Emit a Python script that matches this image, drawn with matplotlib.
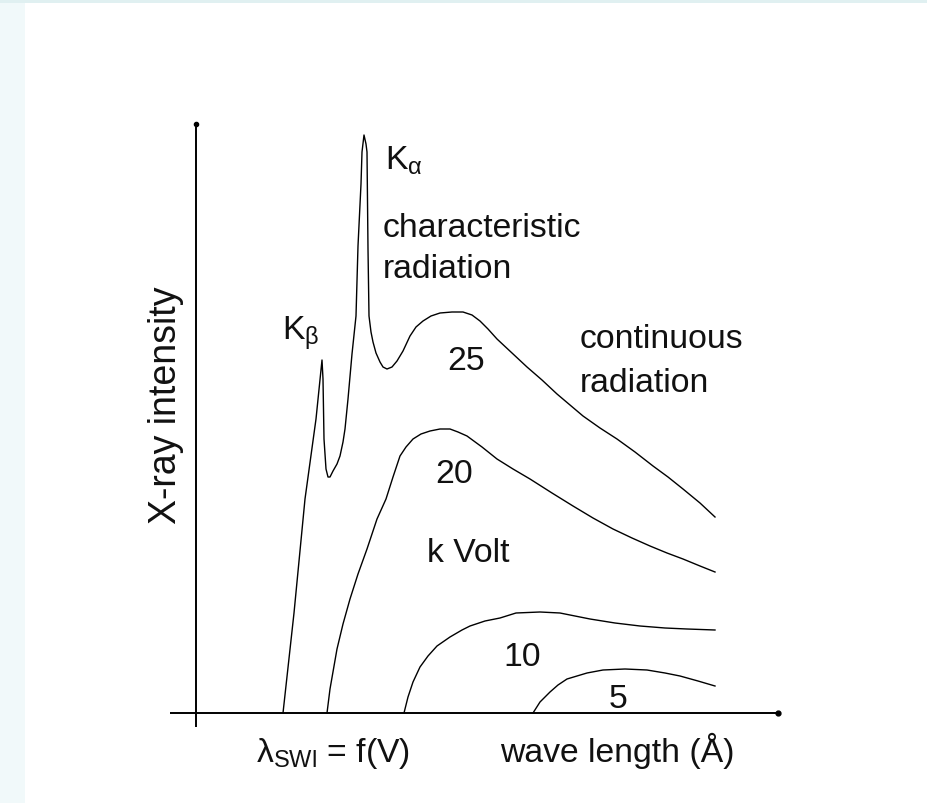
import numpy as np
import matplotlib
matplotlib.use("Agg")
import matplotlib.pyplot as plt
from matplotlib.patches import Rectangle

# ---------------------- SETTINGS ----------------------
plt.rcParams['font.family'] = ['Liberation Sans', 'DejaVu Sans']
plt.rcParams['mathtext.fontset'] = 'custom'
plt.rcParams['mathtext.rm'] = 'Liberation Sans'
plt.rcParams['mathtext.it'] = 'Liberation Sans:italic'
plt.rcParams['mathtext.bf'] = 'Liberation Sans:bold'

FS = 24.3
W, H, DPI = 927, 804, 100

# ---------------------- DATA ----------------------
# wavelength (arb. units) / intensity (arb. units)
wl_25kv = [0.86, 0.97, 1.08, 1.19, 1.25, 1.26, 1.27, 1.29, 1.31, 1.33, 1.36,
           1.40, 1.43, 1.46, 1.48, 1.51, 1.55, 1.59, 1.61, 1.64, 1.65, 1.67,
           1.69, 1.70, 1.71, 1.72, 1.74, 1.76, 1.79, 1.83, 1.86, 1.90, 1.95,
           2.00, 2.06, 2.13, 2.19, 2.26, 2.34, 2.43, 2.55, 2.66, 2.75, 2.83,
           2.91, 3.00, 3.15, 3.30, 3.45, 3.60, 3.73, 3.86, 4.03, 4.20, 4.38,
           4.56, 4.71, 4.86, 5.03, 5.18]
int_25kv = [0.00, 1.00, 2.14, 2.94, 3.53, 3.34, 2.74, 2.44, 2.36, 2.36, 2.42,
            2.49, 2.57, 2.71, 2.84, 3.14, 3.59, 3.97, 4.67, 5.29, 5.61, 5.78,
            5.69, 5.61, 4.64, 3.97, 3.81, 3.71, 3.60, 3.51, 3.46, 3.44, 3.46,
            3.52, 3.62, 3.77, 3.86, 3.92, 3.97, 4.00, 4.01, 4.01, 3.98, 3.92,
            3.84, 3.74, 3.60, 3.46, 3.33, 3.19, 3.08, 2.97, 2.85, 2.74, 2.61,
            2.47, 2.36, 2.24, 2.10, 1.96]

wl_20kv = [1.30, 1.33, 1.40, 1.46, 1.53, 1.61, 1.70, 1.80, 1.89, 1.96, 2.03,
           2.09, 2.16, 2.24, 2.33, 2.43, 2.53, 2.61, 2.70, 2.85, 3.00, 3.16,
           3.33, 3.55, 3.76, 3.96, 4.16, 4.35, 4.53, 4.70, 4.86, 5.03, 5.18]
int_20kv = [0.00, 0.24, 0.64, 0.89, 1.14, 1.39, 1.64, 1.94, 2.14, 2.36, 2.57,
            2.66, 2.74, 2.79, 2.82, 2.84, 2.84, 2.81, 2.77, 2.66, 2.54, 2.44,
            2.34, 2.20, 2.07, 1.95, 1.84, 1.75, 1.67, 1.60, 1.54, 1.47, 1.41]

wl_10kv = [2.07, 2.11, 2.16, 2.23, 2.31, 2.40, 2.53, 2.65, 2.73, 2.88, 3.03,
           3.19, 3.43, 3.63, 3.78, 3.93, 4.18, 4.43, 4.68, 4.90, 5.18]
int_10kv = [0.00, 0.16, 0.31, 0.46, 0.57, 0.67, 0.76, 0.83, 0.87, 0.92, 0.95,
            1.00, 1.01, 1.00, 0.97, 0.94, 0.90, 0.87, 0.85, 0.84, 0.83]

wl_5kv = [3.36, 3.43, 3.53, 3.61, 3.70, 3.80, 3.90, 4.06, 4.28, 4.50, 4.68,
          4.83, 5.01, 5.18]
int_5kv = [0.00, 0.11, 0.21, 0.28, 0.34, 0.37, 0.40, 0.43, 0.44, 0.43, 0.40,
           0.37, 0.32, 0.27]

curves = [(wl_25kv, int_25kv), (wl_20kv, int_20kv),
          (wl_10kv, int_10kv), (wl_5kv, int_5kv)]

voltage_labels = ["25", "20", "10", "5"]

# ---------------------- FIGURE ----------------------
fig = plt.figure(figsize=(W / DPI, H / DPI), dpi=DPI)
fig.patch.set_facecolor('white')

# light slide border (left strip + top strip)
fig.patches.append(Rectangle((0, 0), 25 / W, 1, transform=fig.transFigure,
                             facecolor='#f1f9fa', edgecolor='none', zorder=0))
fig.patches.append(Rectangle((0, 1 - 4 / H), 1, 4 / H, transform=fig.transFigure,
                             facecolor='#e0f0f1', edgecolor='none', zorder=0))

ax = fig.add_axes([0, 0, 1, 1])
ax.set_xlim(-1.97, 7.30)
ax.set_ylim(-0.90, 7.14)
ax.axis('off')
ax.patch.set_alpha(0)

# axes lines
ax.plot([-0.27, 5.81], [0, 0], color='black', lw=1.4, solid_capstyle='butt')
ax.plot([-0.01, -0.01], [-0.14, 5.89], color='black', lw=1.4, solid_capstyle='butt')
ax.plot([5.81], [0], marker='o', ms=3.5, color='black')
ax.plot([-0.01], [5.89], marker='o', ms=3.0, color='black')

for wl, inten in curves:
    ax.plot(wl, inten, color='black', lw=1.0, solid_joinstyle='round')

# ---------------------- TEXT ----------------------
txt = dict(fontsize=FS, color='#111111')
ax.text(1.88, 5.44, r'K$_{\mathrm{α}}$', ha='left', va='baseline', **txt)
ax.text(0.85, 3.74, r'K$_{\mathrm{β}}$', ha='left', va='baseline', **txt)
ax.text(1.86, 4.77, 'characteristic', ha='left', va='baseline', **txt)
ax.text(1.86, 4.36, 'radiation', ha='left', va='baseline', **txt)
ax.text(3.83, 3.66, 'continuous', ha='left', va='baseline', **txt)
ax.text(3.83, 3.22, 'radiation', ha='left', va='baseline', **txt)
ax.text(2.30, 1.52, 'k Volt', ha='left', va='baseline', **txt)

label_pos = [(2.69, 3.44), (2.57, 2.31), (3.25, 0.48), (4.21, 0.06)]
for lab, (lx, ly) in zip(voltage_labels, label_pos):
    ax.text(lx, ly, lab, ha='center', va='baseline', **txt)

ax.text(0.59, -0.48, '\u03bb$_{\\mathrm{SWl}}$ = f(V)', ha='left', va='baseline', **txt)
ax.text(3.03, -0.48, 'wave length (\u00c5)', ha='left', va='baseline', **txt)
ax.text(-0.31, 3.09, 'X-ray intensity', rotation=90, ha='center', va='center',
        fontsize=27, color='#111111')

fig.savefig('out.png', dpi=DPI)
